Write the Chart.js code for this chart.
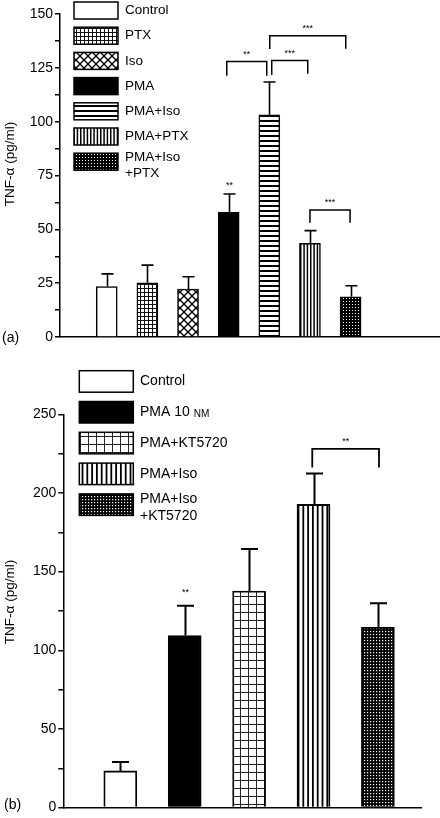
<!DOCTYPE html>
<html><head><meta charset="utf-8">
<script src="https://cdn.jsdelivr.net/npm/chart.js@4"></script>
<style>
html,body{margin:0;padding:0;background:#fff;width:440px;height:818px;overflow:hidden}
#wa{position:absolute;left:0;top:0;width:440px;height:348px}
#wb{position:absolute;left:0;top:348px;width:440px;height:470px}
canvas{display:block}
</style></head><body>
<div id="wa"><canvas id="ca" width="440" height="348"></canvas></div>
<div id="wb"><canvas id="cb" width="440" height="470"></canvas></div>
<script>
// ---------- Panel (a) data ----------
const labelsA = [['Control'], ['PTX'], ['Iso'], ['PMA'], ['PMA+Iso'], ['PMA+PTX'], ['PMA+Iso', '+PTX']];
const valuesA = [23.4, 25.2, 22.2, 57.9, 103.2, 43.5, 18.7];
const semA    = [5.9, 8.2, 5.8, 8.5, 15.2, 5.9, 5.1];
const marksA  = ['', '', '', '**', '', '', ''];
const patternsA = ['white', 'gridA', 'diag', 'black', 'hlinesA', 'vlinesA', 'dotsA'];
const ticksA  = [0, 25, 50, 75, 100, 125, 150];
// significance brackets: [fromIndex, toIndex, bracketLevel, leftLegEnd, rightLegEnd, stars]
const sigA = [
  [2.953, 3.937, 127.9, 121.3, 121.3, '**'],
  [4.06, 4.946, 128.4, 121.7, 122.2, '***'],
  [4.011, 5.881, 139.9, 133.8, 133.9, '***'],
  [5.0, 5.987, 59.0, 53.1, 53.1, '***']
];

// ---------- Panel (b) data ----------
const labelsB = [['Control'], ['PMA 10 nM'], ['PMA+KT5720'], ['PMA+Iso'], ['PMA+Iso', '+KT5720']];
const valuesB = [23.3, 109.4, 137.7, 192.7, 114.6];
const semB    = [5.7, 18.9, 26.7, 19.7, 15.3];
const marksB  = ['', '**', '', '', ''];
const patternsB = ['white', 'black', 'gridB', 'vlinesB', 'dotsB'];
const ticksB  = [0, 50, 100, 150, 200, 250];
const sigB = [
  [2.981, 4.017, 228.0, 216.2, 216.2, '**']
];

const FONT = "'Liberation Sans', Arial, Helvetica, sans-serif";

function makePattern(kind, ctx) {
  if (kind === 'white') return '#fff';
  if (kind === 'black') return '#000';
  const c = document.createElement('canvas');
  const g = c.getContext('2d');
  const setSize = (a, b) => { c.width = a; c.height = b; g.fillStyle = '#fff'; g.fillRect(0, 0, a, b); g.fillStyle = '#000'; g.strokeStyle = '#000'; };
  switch (kind) {
    case 'gridA':
      setSize(4, 4); g.fillStyle = '#111'; g.fillRect(0, 0, 4, 1); g.fillRect(0, 0, 1, 4); break;
    case 'diag': {
      setSize(8, 8); g.lineWidth = 1.3;
      for (const k of [-8, 0, 8]) {
        g.beginPath(); g.moveTo(k, 0); g.lineTo(k + 8, 8); g.stroke();
        g.beginPath(); g.moveTo(k + 8, 0); g.lineTo(k, 8); g.stroke();
      }
      break;
    }
    case 'hlinesA':
      setSize(1, 5); g.fillRect(0, 0, 1, 2); break;
    case 'vlinesA':
      setSize(10, 1);
      for (const p of [0, 3.33, 6.67]) { g.fillRect(p, 0, 1.5, 1); }
      break;
    case 'dotsA':
      setSize(3, 3); g.fillRect(0, 0, 3, 3); g.fillStyle = '#fff'; g.fillRect(1, 1, 1, 1); break;
    case 'gridB':
      setSize(8, 8); g.fillStyle = '#222'; g.fillRect(0, 0, 8, 1); g.fillRect(0, 0, 1, 8); break;
    case 'vlinesB':
      setSize(24, 1);
      for (const p of [0, 4.8, 9.6, 14.4, 19.2]) { g.fillRect(p, 0, 1.8, 1); }
      break;
    case 'dotsB':
      setSize(3, 3); g.fillRect(0, 0, 3, 3); g.fillStyle = '#fff'; g.fillRect(1, 1, 1.2, 1.2); break;
  }
  return ctx.createPattern(c, 'repeat');
}

function drawLabel(ctx, text, x, y, size) {
  // render the "nM" unit in small capitals
  const m = text.match(/^(.*\s)(nM)$/);
  if (!m) { ctx.fillText(text, x, y); return; }
  ctx.fillText(m[1], x, y);
  const w = ctx.measureText(m[1]).width;
  ctx.save();
  ctx.font = (size * 0.72) + 'px ' + FONT;
  ctx.textBaseline = 'alphabetic';
  ctx.fillText(m[2].toUpperCase(), x + w, y + size * 0.33);
  ctx.restore();
}

function makeAnnot(cfg) {
  return {
    id: 'annot',
    afterDatasetsDraw(chart) {
      const { ctx, scales: { x, y } } = chart;
      const meta = chart.getDatasetMeta(0);
      ctx.save();
      ctx.strokeStyle = '#000'; ctx.fillStyle = '#000';
      // error bars + marks
      cfg.values.forEach((v, i) => {
        const el = meta.data[i];
        const px = Math.round(el.x) + 0.5;
        const top = y.getPixelForValue(v);
        const et = y.getPixelForValue(v + cfg.sem[i]);
        ctx.lineWidth = cfg.errWidth;
        ctx.beginPath();
        ctx.moveTo(px, top); ctx.lineTo(px, et);
        ctx.moveTo(px - cfg.cap / 2, et); ctx.lineTo(px + cfg.cap / 2, et);
        ctx.stroke();
        if (cfg.marks[i]) {
          ctx.font = '9px ' + FONT; ctx.textAlign = 'center'; ctx.textBaseline = 'middle';
          ctx.fillText(cfg.marks[i], px, et - cfg.markGap);
        }
      });
      // brackets
      ctx.lineWidth = cfg.bracketWidth;
      cfg.sig.forEach(s => {
        const x1 = x.getPixelForValue(s[0]), x2 = x.getPixelForValue(s[1]);
        const yt = y.getPixelForValue(s[2]), yl = y.getPixelForValue(s[3]), yr = y.getPixelForValue(s[4]);
        ctx.beginPath();
        ctx.moveTo(x1, yl); ctx.lineTo(x1, yt); ctx.lineTo(x2, yt); ctx.lineTo(x2, yr);
        ctx.stroke();
        ctx.font = '9px ' + FONT; ctx.textAlign = 'center'; ctx.textBaseline = 'middle';
        ctx.fillText(s[5], (x1 + x2) / 2, yt - 7);
      });
      // legend
      const L = cfg.legend;
      cfg.labels.forEach((lines, i) => {
        const by = L.y + i * L.step;
        ctx.fillStyle = cfg.fills[i];
        ctx.fillRect(L.x, by, L.w, L.h);
        ctx.lineWidth = 1.5; ctx.strokeStyle = '#000';
        ctx.strokeRect(L.x, by, L.w, L.h);
        ctx.fillStyle = '#000';
        ctx.font = L.font + 'px ' + FONT; ctx.textAlign = 'left'; ctx.textBaseline = 'middle';
        const cy = by + L.h / 2;
        if (lines.length === 1) {
          drawLabel(ctx, lines[0], L.tx, cy, L.font);
        } else {
          drawLabel(ctx, lines[0], L.tx, cy + L.l1, L.font);
          drawLabel(ctx, lines[1], L.tx, cy + L.l2, L.font);
        }
      });
      // y title
      ctx.save();
      ctx.translate(cfg.title.x, cfg.title.y);
      ctx.rotate(-Math.PI / 2);
      ctx.font = '13.5px ' + FONT; ctx.textAlign = 'center'; ctx.textBaseline = 'middle';
      ctx.fillText('TNF-α (pg/ml)', 0, 0);
      ctx.restore();
      // panel label
      ctx.font = '14px ' + FONT; ctx.textAlign = 'left'; ctx.textBaseline = 'middle';
      ctx.fillText(cfg.panel, cfg.panelPos.x, cfg.panelPos.y);
      ctx.restore();
    }
  };
}

function buildChart(id, labels, values, sem, marks, patterns, ticks, sig, opt) {
  const canvas = document.getElementById(id);
  const ctx = canvas.getContext('2d');
  const fills = patterns.map(p => makePattern(p, ctx));
  const yMax = ticks[ticks.length - 1];
  const major = ticks[1] - ticks[0];
  return new Chart(canvas, {
    type: 'bar',
    data: {
      datasets: [{
        data: values.map((v, i) => ({ x: i, y: v })),
        backgroundColor: fills,
        borderColor: '#000',
        borderWidth: opt.barBorder,
        barThickness: opt.barW
      }]
    },
    options: {
      responsive: false,
      animation: false,
      devicePixelRatio: 1,
      layout: { padding: opt.padding },
      plugins: { legend: { display: false }, tooltip: { enabled: false } },
      scales: {
        x: {
          type: 'linear', min: opt.xMin, max: opt.xMax, offset: false,
          ticks: { display: false },
          grid: { display: false, drawTicks: false, offset: false },
          border: { display: true, color: '#000', width: 1.5 },
          afterFit: s => { s.height = 0; }
        },
        y: {
          min: 0, max: yMax,
          afterBuildTicks: s => {
            const t = [];
            for (let v = 0; v <= yMax + 1e-9; v += major / 2) t.push({ value: v });
            s.ticks = t;
          },
          ticks: {
            color: '#000', padding: 2,
            font: { family: FONT, size: 14 },
            callback: v => (ticks.includes(v) ? String(v) : '')
          },
          grid: { display: true, drawOnChartArea: false, drawTicks: true, tickLength: 5, color: '#000', lineWidth: 1.5 },
          border: { display: true, color: '#000', width: 1.5 },
          afterFit: s => { s.width = opt.yWidth; }
        }
      }
    },
    plugins: [makeAnnot({
      values, sem, marks, sig, labels, fills,
      errWidth: opt.errWidth, cap: opt.cap, markGap: opt.markGap, bracketWidth: opt.bracketWidth,
      legend: opt.legend, title: opt.title, panel: opt.panel, panelPos: opt.panelPos
    })]
  });
}

buildChart('ca', labelsA, valuesA, semA, marksA, patternsA, ticksA, sigA, {
  padding: { top: 14, bottom: 11, left: 0, right: 0 },
  yWidth: 60, xMin: -1.15, xMax: 8.2, barW: 21, barBorder: 1.5,
  errWidth: 1.6, cap: 12, markGap: 9, bracketWidth: 1.5,
  legend: { x: 74, y: 2, w: 44, h: 17, step: 25.2, tx: 125, font: 13.5, l1: -4.5, l2: 12 },
  title: { x: 10, y: 164 }, panel: '(a)', panelPos: { x: 2, y: 338 }
});

buildChart('cb', labelsB, valuesB, semB, marksB, patternsB, ticksB, sigB, {
  padding: { top: 66.3, bottom: 7, left: 0, right: 18.3 },
  yWidth: 63.3, xMin: -0.885, xMax: 4.68, barW: 33, barBorder: 1.8,
  errWidth: 2, cap: 17, markGap: 13, bracketWidth: 1.8,
  legend: { x: 79.3, y: 22.7, w: 54, h: 21.5, step: 30.8, tx: 140, font: 14, l1: -5.8, l2: 11 },
  title: { x: 10, y: 254 }, panel: '(b)', panelPos: { x: 4, y: 457 }
});
</script>
</body></html>
